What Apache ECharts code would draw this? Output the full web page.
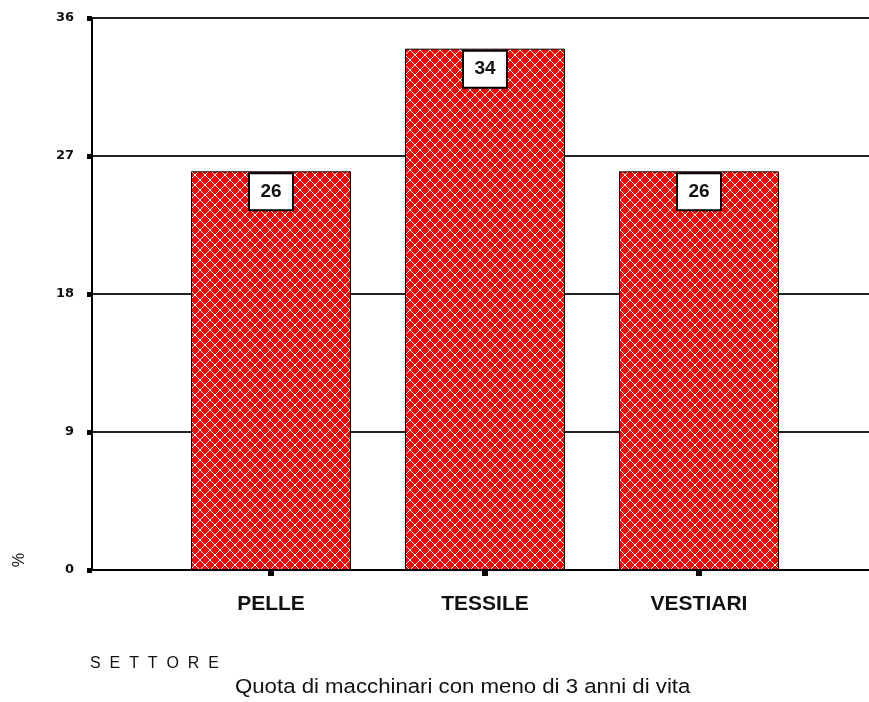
<!DOCTYPE html>
<html>
<head>
<meta charset="utf-8">
<script src="https://cdn.jsdelivr.net/npm/echarts@6/dist/echarts.min.js"></script>
<style>
  html, body { margin: 0; padding: 0; background: #fff; }
  #chart { width: 869px; height: 702px; }
</style>
</head>
<body>
<div id="chart"></div>
<script>
// Sector categories and the share (%) of machinery younger than 3 years
const categories = ['PELLE', 'TESSILE', 'VESTIARI'];
const values = [26, 34, 26];
const yTicks = [0, 9, 18, 27, 36];

const titleText = 'Quota di macchinari con meno di 3 anni di vita';
const xName = 'SETTORE';
const yName = '%';

// Red fill with a white one-pixel diagonal lattice (2x2 white dots at crossings)
function latticeTile() {
  const n = 10;
  const c = document.createElement('canvas');
  c.width = n; c.height = n;
  const g = c.getContext('2d');
  g.fillStyle = '#ff0000';
  g.fillRect(0, 0, n, n);
  g.fillStyle = '#ffffff';
  for (let i = 0; i < n; i++) {
    g.fillRect(i, i, 1, 1);
    g.fillRect(i, n - 1 - i, 1, 1);
  }
  return c;
}

const chart = echarts.init(document.getElementById('chart'));
const yMin = yTicks[0], yMax = yTicks[yTicks.length - 1], yStep = yTicks[1] - yTicks[0];
const sans = 'Arial, "Liberation Sans", sans-serif';

chart.setOption({
  animation: false,
  backgroundColor: '#ffffff',
  grid: [
    { left: 92, right: 0, top: 18, bottom: 132 },
    { left: 164, width: 642, top: 18, bottom: 132 }
  ],
  xAxis: [
    {
      gridIndex: 0, type: 'category', data: [],
      axisLine: { show: true, lineStyle: { color: '#000', width: 2 } },
      axisTick: { show: false }, axisLabel: { show: false }
    },
    {
      gridIndex: 1, type: 'category', data: categories,
      axisLine: { show: false },
      axisTick: { show: true, alignWithLabel: true, length: 6, lineStyle: { color: '#000', width: 6 } },
      axisLabel: {
        margin: 24, color: '#111',
        fontFamily: sans, fontWeight: 'bold', fontSize: 21
      }
    }
  ],
  yAxis: [
    {
      gridIndex: 0, type: 'value', min: yMin, max: yMax, interval: yStep,
      axisLine: { show: true, lineStyle: { color: '#000', width: 2 } },
      axisTick: { show: true, length: 5, lineStyle: { color: '#000', width: 5 } },
      axisLabel: {
        margin: 18, color: '#111',
        fontFamily: '"DejaVu Sans", sans-serif', fontWeight: 'bold', fontSize: 13
      },
      splitLine: { show: true, lineStyle: { color: '#222', width: 2 } }
    },
    {
      gridIndex: 1, type: 'value', min: yMin, max: yMax, interval: yStep, show: false,
      splitLine: { show: false }
    }
  ],
  series: [{
    type: 'bar',
    xAxisIndex: 1, yAxisIndex: 1,
    data: values,
    barWidth: 160,
    itemStyle: {
      color: { image: latticeTile(), repeat: 'repeat' },
      borderColor: '#000', borderWidth: 1
    },
    label: {
      show: true, position: 'insideTop', distance: 3,
      color: '#111', fontFamily: sans,
      fontWeight: 'bold', fontSize: 19,
      backgroundColor: '#fff', borderColor: '#000', borderWidth: 2,
      width: 42, height: 35, lineHeight: 35, align: 'center', padding: 0
    }
  }],
  graphic: [
    {
      type: 'text', left: 8, top: 553, rotation: -Math.PI / 2,
      style: { text: yName, font: '16px ' + sans, fill: '#111' }
    },
    {
      type: 'text', left: 90, top: 656,
      style: { text: xName.split('').join('  '), font: '16px ' + sans, fill: '#111' }
    },
    {
      type: 'text', x: 235, y: 677, scaleX: 1.11,
      style: { text: titleText, font: '20px ' + sans, fill: '#111' }
    }
  ]
});
</script>
</body>
</html>
